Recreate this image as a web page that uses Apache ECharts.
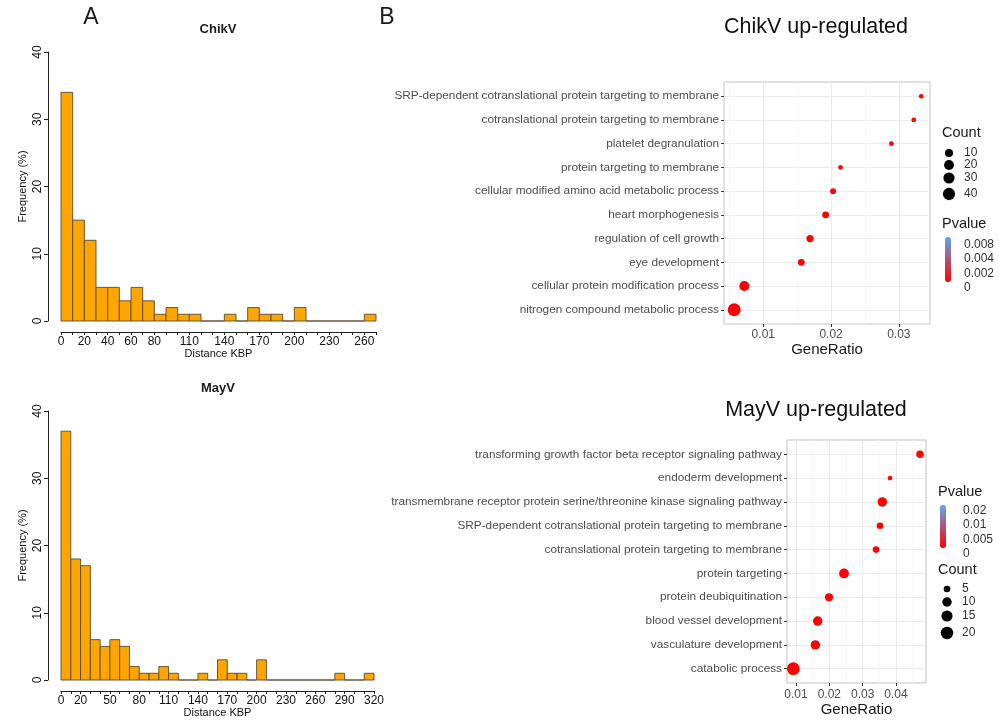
<!DOCTYPE html>
<html>
<head>
<meta charset="UTF-8">
<title>ChikV / MayV</title>
<script src="https://cdn.jsdelivr.net/npm/echarts@6/dist/echarts.min.js"></script>
<style>
html,body{margin:0;padding:0;background:#fff;}
#main{width:999px;height:720px;}
</style>
</head>
<body>
<div id="main"></div>
<script type="text/javascript">
// ---- histograms (bins of 10 kbp, frequency in %) ----
var binWidth = 10;
var chikvFreq = [34,15,12,5,5,3,5,3,1,2,1,1,0,0,1,0,2,1,1,0,2,0,0,0,0,0,1];
var mayvFreq  = [37,18,17,6,5,6,5,2,1,1,2,1,0,0,1,0,3,1,1,0,3,0,0,0,0,0,0,0,1,0,0,1];
var chikvDistLabels = [0,20,40,60,80,110,140,170,200,230,260];
var mayvDistLabels  = [0,20,50,80,110,140,170,200,230,260,290,320];

// ---- GO dot plots (listed top to bottom) ----
var chikvTerms = ['SRP-dependent cotranslational protein targeting to membrane','cotranslational protein targeting to membrane','platelet degranulation','protein targeting to membrane','cellular modified amino acid metabolic process','heart morphogenesis','regulation of cell growth','eye development','cellular protein modification process','nitrogen compound metabolic process'];
var chikvRatio = [0.0333,0.0322,0.0289,0.0214,0.0203,0.0192,0.0169,0.0156,0.0072,0.0057];
var chikvCount = [3,3,3,3,4,6,7,6,21,47];
var chikvP     = [0.0002,0.0002,0.0001,0.0003,0.0002,0.0001,0.0001,0.0002,0.00001,0.000001];
var chikvRatioTicks = [0.01,0.02,0.03];
var chikvCountBreaks = [10,20,30,40];
var chikvPLabels = ['0.008','0.004','0.002','0'];

var mayvTerms = ['transforming growth factor beta receptor signaling pathway','endoderm development','transmembrane receptor protein serine/threonine kinase signaling pathway','SRP-dependent cotranslational protein targeting to membrane','cotranslational protein targeting to membrane','protein targeting','protein deubiquitination','blood vessel development','vasculature development','catabolic process'];
var mayvRatio = [0.0472,0.0382,0.0359,0.0352,0.0340,0.0244,0.0199,0.0165,0.0158,0.0092];
var mayvCount = [6,4,10,5,5,11,7,10,10,21];
var mayvP     = [0.0003,0.0005,0.0002,0.0004,0.0004,0.0003,0.0004,0.0002,0.0002,0.00001];
var mayvRatioTicks = [0.01,0.02,0.03,0.04];
var mayvCountBreaks = [5,10,15,20];
var mayvPLabels = ['0.02','0.01','0.005','0'];

var FONT = '"Liberation Sans", Arial, sans-serif';

function sizeChikv(c){ return 4.7 + 8.3 * Math.sqrt(Math.max(0, c - 3) / 44); }
function sizeMayv(c){ return 4.7 + 8 * Math.sqrt(Math.max(0, c - 4) / 17); }

function toBins(freq){
    return freq.map(function(f, i){ return [i * binWidth, (i + 1) * binWidth, f]; });
}
function toDots(terms, ratio, count, p){
    return terms.map(function(t, i){ return [ratio[i], i, count[i], p[i]]; });
}

function renderBin(params, api){
    var p0 = api.coord([api.value(0), api.value(2)]);
    var p1 = api.coord([api.value(1), 0]);
    return {
        type: 'rect',
        shape: {x: p0[0], y: p0[1], width: p1[0] - p0[0], height: p1[1] - p0[1]},
        style: {fill: '#FFA500', stroke: '#5a4a30', lineWidth: 0.9}
    };
}

function histX(grid, max, labels){
    return {
        gridIndex: grid, type: 'value', min: 0, max: max, interval: 10, offset: 11,
        axisLine: {show: true, onZero: false, lineStyle: {color: '#222', width: 1}},
        axisTick: {show: true, length: 3, lineStyle: {color: '#222'}},
        axisLabel: {fontSize: 12, fontFamily: FONT, color: '#111', margin: 4,
            formatter: function(v){ v = Math.round(v); return labels.indexOf(v) >= 0 ? String(v) : ''; }},
        splitLine: {show: false},
        name: 'Distance KBP', nameLocation: 'middle', nameGap: 15,
        nameTextStyle: {fontSize: 11, fontFamily: FONT, color: '#111'}
    };
}
function histY(grid){
    return {
        gridIndex: grid, type: 'value', min: 0, max: 40, interval: 10, offset: 13,
        axisLine: {show: true, onZero: false, lineStyle: {color: '#222', width: 1}},
        axisTick: {show: true, length: 4, lineStyle: {color: '#222'}},
        axisLabel: {rotate: 90, fontSize: 12, fontFamily: FONT, color: '#111', margin: 4},
        splitLine: {show: false},
        name: 'Frequency (%)', nameLocation: 'middle', nameGap: 20,
        nameTextStyle: {fontSize: 11, fontFamily: FONT, color: '#111'}
    };
}
function dotX(grid, min, max, split, ticks, nameGap, margin){
    return {
        gridIndex: grid, type: 'value', min: min, max: max, splitNumber: split,
        axisLine: {show: false, onZero: false},
        axisTick: {show: true, length: 3, lineStyle: {color: '#333'}, customValues: ticks},
        axisLabel: {customValues: ticks, fontSize: 12, fontFamily: FONT, color: '#4d4d4d', margin: margin,
            formatter: function(v){ return Math.abs(v * 100 - Math.round(v * 100)) < 1e-6 ? v.toFixed(2) : ''; }},
        splitLine: {show: true, lineStyle: {color: '#ebebeb', width: 1}},
        minorTick: {show: false, splitNumber: 2},
        minorSplitLine: {show: true, lineStyle: {color: '#f4f4f4', width: 0.7}},
        name: 'GeneRatio', nameLocation: 'middle', nameGap: nameGap,
        nameTextStyle: {fontSize: 15, fontFamily: FONT, color: '#1a1a1a'}
    };
}
function dotY(grid, terms, fontSize){
    var idx = terms.map(function(t, i){ return i; });
    return {
        gridIndex: grid, type: 'value', min: -0.6, max: terms.length - 0.4, splitNumber: 10, inverse: true,
        axisLine: {show: false, onZero: false},
        axisTick: {show: true, length: 3, lineStyle: {color: '#333'}, customValues: idx},
        axisLabel: {customValues: idx, fontSize: fontSize, fontFamily: FONT, color: '#4d4d4d', margin: 5,
            formatter: function(v){ return Math.abs(v - Math.round(v)) < 1e-6 && terms[Math.round(v)] ? terms[Math.round(v)] : ''; }},
        splitLine: {show: true, lineStyle: {color: '#ebebeb', width: 1}}
    };
}

// ---- texts and legends ----
var graphics = [];
function txt(x, y, s, size, opt){
    var st = {text: s, font: size + 'px ' + FONT, fill: '#1a1a1a', align: 'left', verticalAlign: 'middle',
              textAlign: 'left', textVerticalAlign: 'middle'};
    for (var k in (opt || {})) st[k] = opt[k];
    graphics.push({type: 'text', x: x, y: y, style: st, silent: true});
}
txt(91, 18, 'A', 23, {align: 'center', textAlign: 'center'});
txt(387, 18, 'B', 23, {align: 'center', textAlign: 'center'});
txt(218, 29, 'ChikV', 13, {align: 'center', textAlign: 'center', font: 'bold 13px ' + FONT});
txt(218, 388, 'MayV', 13, {align: 'center', textAlign: 'center', font: 'bold 13px ' + FONT});
txt(816, 27, 'ChikV up-regulated', 21.5, {align: 'center', textAlign: 'center', fill: '#111'});
txt(816, 410, 'MayV up-regulated', 21.5, {align: 'center', textAlign: 'center', fill: '#111'});

// ChikV legend
txt(942, 133, 'Count', 14.5);
var chikvLegY = [153, 165, 178, 194];
chikvCountBreaks.forEach(function(c, i){
    graphics.push({type: 'circle', shape: {cx: 949, cy: chikvLegY[i], r: sizeChikv(c) / 2}, style: {fill: '#000'}, silent: true});
    txt(964, chikvLegY[i], String(c), 12, {fill: '#333'});
});
txt(942, 224, 'Pvalue', 14.5);
var chikvPY = [245, 259, 274, 288];
chikvPLabels.forEach(function(s, i){ txt(964, chikvPY[i], s, 12, {fill: '#333'}); });

// MayV legend
txt(938, 492, 'Pvalue', 14.5);
var mayvPY = [511, 525, 540, 554];
mayvPLabels.forEach(function(s, i){ txt(963, mayvPY[i], s, 12, {fill: '#333'}); });
txt(938, 570, 'Count', 14.5);
var mayvLegY = [589, 602, 616, 633];
mayvCountBreaks.forEach(function(c, i){
    graphics.push({type: 'circle', shape: {cx: 947, cy: mayvLegY[i], r: sizeMayv(c) / 2}, style: {fill: '#000'}, silent: true});
    txt(962, mayvLegY[i], String(c), 12, {fill: '#333'});
});

var chart = echarts.init(document.getElementById('main'), null, {renderer: 'canvas'});
var option = {
    animation: false,
    backgroundColor: '#fff',
    textStyle: {fontFamily: FONT},
    grid: [
        {left: 61, top: 52, width: 315, height: 269},
        {left: 61, top: 411, width: 313, height: 269},
        {left: 724, top: 82, width: 206, height: 242, show: true, borderColor: '#c4c4c4', borderWidth: 1, backgroundColor: '#fff'},
        {left: 787, top: 440, width: 139, height: 243, show: true, borderColor: '#c4c4c4', borderWidth: 1, backgroundColor: '#fff'}
    ],
    xAxis: [
        histX(0, 270, chikvDistLabels),
        histX(1, 320, mayvDistLabels),
        dotX(2, 0.0042, 0.0346, 3, chikvRatioTicks, 17, 5),
        dotX(3, 0.0073, 0.049, 4, mayvRatioTicks, 18, 6)
    ],
    yAxis: [
        histY(0),
        histY(1),
        dotY(2, chikvTerms, 11.8),
        dotY(3, mayvTerms, 11.8)
    ],
    visualMap: [
        {type: 'continuous', seriesIndex: 2, dimension: 3, min: 0, max: 0.009,
         inRange: {color: ['#ff0000', '#5aaaf2']}, left: 945, top: 237, itemWidth: 6, itemHeight: 45,
         calculable: false, padding: 0, showLabel: false, hoverLink: false},
        {type: 'continuous', seriesIndex: 3, dimension: 3, min: 0, max: 0.022,
         inRange: {color: ['#ff0000', '#5aaaf2']}, left: 940, top: 505, itemWidth: 6, itemHeight: 43,
         calculable: false, padding: 0, showLabel: false, hoverLink: false}
    ],
    series: [
        {type: 'custom', xAxisIndex: 0, yAxisIndex: 0, renderItem: renderBin, encode: {x: [0, 1], y: 2}, data: toBins(chikvFreq)},
        {type: 'custom', xAxisIndex: 1, yAxisIndex: 1, renderItem: renderBin, encode: {x: [0, 1], y: 2}, data: toBins(mayvFreq)},
        {type: 'scatter', xAxisIndex: 2, yAxisIndex: 2, data: toDots(chikvTerms, chikvRatio, chikvCount, chikvP),
         symbolSize: function(v){ return sizeChikv(v[2]); }, itemStyle: {opacity: 1}},
        {type: 'scatter', xAxisIndex: 3, yAxisIndex: 3, data: toDots(mayvTerms, mayvRatio, mayvCount, mayvP),
         symbolSize: function(v){ return sizeMayv(v[2]); }, itemStyle: {opacity: 1}}
    ],
    graphic: graphics
};
chart.setOption(option);
</script>
</body>
</html>
